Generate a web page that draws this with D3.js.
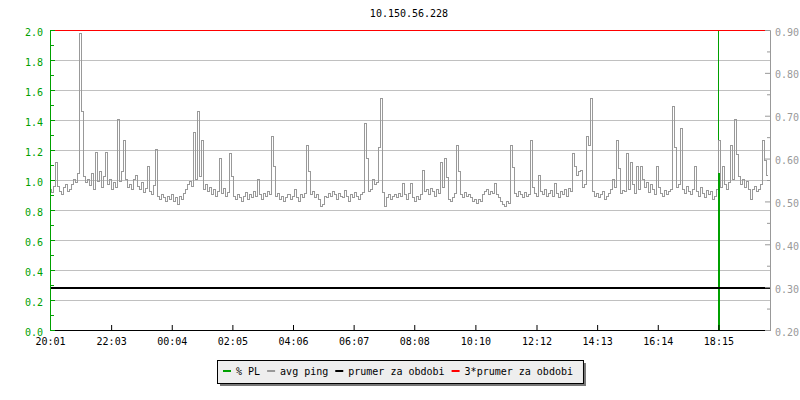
<!DOCTYPE html>
<html>
<head>
<meta charset="utf-8">
<script src="https://cdn.jsdelivr.net/npm/d3@7"></script>
<style>
  body { margin: 0; background: #fff; }
  text { font-family: "DejaVu Sans Mono", monospace; font-size: 10px; }
</style>
</head>
<body>
<div class="chart"></div>
<script>
const title = "10.150.56.228"
const startTime = "20:01"
const spanMinutes = 1437
const xTickLabels = ["20:01", "22:03", "00:04", "02:05", "04:06", "06:07", "08:08", "10:10", "12:12", "14:13", "16:14", "18:15"]
const leftTicks = [0, 0.2, 0.4, 0.6, 0.8, 1.0, 1.2, 1.4, 1.6, 1.8, 2.0]
const rightTicks = [0.2, 0.3, 0.4, 0.5, 0.6, 0.7, 0.8, 0.9]

// avg ping (right axis), one sample every 4 minutes from 20:01
const pingStep = 4
const pingValues = [
  0.529, 0.522, 0.536, 0.592, 0.536, 0.524, 0.517, 0.534, 0.541, 0.524,
  0.529, 0.541, 0.552, 0.545, 0.566, 0.893, 0.711, 0.559, 0.545, 0.552,
  0.538, 0.566, 0.529, 0.615, 0.548, 0.571, 0.534, 0.559, 0.615, 0.541,
  0.552, 0.529, 0.545, 0.534, 0.692, 0.548, 0.571, 0.643, 0.552, 0.534,
  0.541, 0.529, 0.552, 0.562, 0.536, 0.529, 0.545, 0.522, 0.531, 0.583,
  0.524, 0.517, 0.538, 0.622, 0.513, 0.506, 0.517, 0.510, 0.501, 0.513,
  0.506, 0.517, 0.501, 0.510, 0.494, 0.513, 0.506, 0.520, 0.529, 0.541,
  0.548, 0.536, 0.662, 0.552, 0.711, 0.559, 0.643, 0.529, 0.541, 0.524,
  0.534, 0.517, 0.529, 0.513, 0.524, 0.601, 0.520, 0.531, 0.513, 0.522,
  0.613, 0.559, 0.513, 0.506, 0.517, 0.510, 0.501, 0.513, 0.522, 0.506,
  0.517, 0.510, 0.524, 0.513, 0.552, 0.517, 0.506, 0.520, 0.513, 0.524,
  0.517, 0.653, 0.583, 0.513, 0.520, 0.506, 0.513, 0.501, 0.510, 0.517,
  0.506, 0.513, 0.529, 0.510, 0.501, 0.517, 0.510, 0.520, 0.632, 0.571,
  0.517, 0.524, 0.510, 0.517, 0.506, 0.489, 0.494, 0.513, 0.510, 0.520,
  0.513, 0.524, 0.517, 0.506, 0.520, 0.513, 0.510, 0.527, 0.513, 0.501,
  0.517, 0.510, 0.522, 0.513, 0.506, 0.517, 0.522, 0.683, 0.601, 0.524,
  0.529, 0.552, 0.541, 0.545, 0.627, 0.741, 0.522, 0.489, 0.510, 0.517,
  0.506, 0.513, 0.517, 0.510, 0.520, 0.513, 0.543, 0.517, 0.506, 0.520,
  0.543, 0.510, 0.501, 0.513, 0.506, 0.517, 0.573, 0.524, 0.529, 0.517,
  0.531, 0.524, 0.513, 0.529, 0.520, 0.592, 0.534, 0.601, 0.557, 0.506,
  0.501, 0.510, 0.520, 0.632, 0.571, 0.517, 0.510, 0.522, 0.513, 0.517,
  0.510, 0.501, 0.506, 0.497, 0.506, 0.501, 0.517, 0.524, 0.529, 0.517,
  0.524, 0.520, 0.543, 0.517, 0.510, 0.501, 0.494, 0.489, 0.501, 0.497,
  0.632, 0.580, 0.520, 0.513, 0.524, 0.517, 0.510, 0.522, 0.513, 0.517,
  0.643, 0.534, 0.520, 0.513, 0.562, 0.524, 0.517, 0.529, 0.513, 0.520,
  0.527, 0.513, 0.543, 0.520, 0.510, 0.524, 0.517, 0.529, 0.513, 0.531,
  0.524, 0.613, 0.583, 0.562, 0.571, 0.573, 0.534, 0.541, 0.653, 0.632,
  0.741, 0.524, 0.513, 0.520, 0.510, 0.517, 0.524, 0.506, 0.513, 0.520,
  0.529, 0.552, 0.534, 0.643, 0.578, 0.520, 0.527, 0.524, 0.613, 0.529,
  0.592, 0.541, 0.520, 0.583, 0.529, 0.583, 0.552, 0.534, 0.545, 0.522,
  0.541, 0.529, 0.517, 0.583, 0.534, 0.520, 0.513, 0.527, 0.517, 0.524,
  0.529, 0.723, 0.627, 0.534, 0.541, 0.671, 0.529, 0.520, 0.536, 0.524,
  0.517, 0.529, 0.583, 0.524, 0.513, 0.534, 0.520, 0.510, 0.527, 0.517,
  0.524, 0.506, 0.513, 0.529, 0.643, 0.534, 0.583, 0.541, 0.529, 0.545,
  0.632, 0.552, 0.692, 0.611, 0.559, 0.541, 0.552, 0.534, 0.548, 0.529,
  0.506, 0.529, 0.536, 0.524, 0.529, 0.541, 0.643, 0.597, 0.562
]

// % PL (left axis)
const plTimes = ["18:15", "18:17"]
const plValues = [2.4, 1.05]

const meanValue = 0.30
const meanTriple = 0.90

const legendLabels = ["% PL", "avg ping", "prumer za obdobi", "3*prumer za obdobi"]
const legendColors = ["#00a000", "#999999", "#000000", "#ff0000"]

const green = "#00a000"
const gray = "#999999"
const plot = {left: 50, right: 770, top: 30, bottom: 330}

const base = new Date(2020, 0, 1)
const startMin = +startTime.slice(0, 2) * 60 + +startTime.slice(3)
function toDate(hhmm) {
    let m = +hhmm.slice(0, 2) * 60 + +hhmm.slice(3)
    if (m < startMin) m += 1440
    return new Date(+base + m * 60000)
}
const t0 = toDate(startTime)

const x = d3.scaleTime()
    .domain([t0, new Date(+t0 + spanMinutes * 60000)])
    .range([plot.left, plot.right])
const yL = d3.scaleLinear().domain([0, 2]).range([plot.bottom, plot.top])
const yR = d3.scaleLinear().domain([0.2, 0.9]).range([plot.bottom, plot.top])

const svg = d3.select(".chart").append("svg")
    .attr("width", 800)
    .attr("height", 400)

svg.append("defs").append("clipPath").attr("id", "clip")
    .append("rect")
    .attr("x", plot.left).attr("y", plot.top - 1)
    .attr("width", plot.right - plot.left).attr("height", plot.bottom - plot.top + 2)

svg.append("text")
    .attr("x", 409)
    .attr("y", 17)
    .attr("text-anchor", "middle")
    .attr("fill", "#000")
    .text(title)

// grid
svg.append("g")
    .selectAll("line")
    .data(leftTicks.filter(d => d > 0 && d < 2))
    .enter().append("line")
    .attr("x1", plot.left).attr("x2", plot.right)
    .attr("y1", d => yL(d) + 0.5).attr("y2", d => yL(d) + 0.5)
    .attr("stroke", "#c0c0c0")

const plData = plTimes.map((t, i) => ({t: toDate(t), v: plValues[i]}))

// % PL impulse reaching the top, drawn under the ping trace
svg.append("g")
    .attr("clip-path", "url(#clip)")
    .selectAll("line")
    .data(plData.filter(d => d.v >= 2))
    .enter().append("line")
    .attr("x1", d => Math.floor(x(d.t)) + 0.5)
    .attr("x2", d => Math.floor(x(d.t)) + 0.5)
    .attr("y1", yL(0))
    .attr("y2", yL(2))
    .attr("stroke", green)
    .attr("shape-rendering", "crispEdges")

const pingData = pingValues.map((v, i) => ({t: new Date(+t0 + i * pingStep * 60000), v}))

const line = d3.line()
    .x(d => Math.round(x(d.t)) + 0.5)
    .y(d => Math.round(yR(d.v)) + 0.5)
    .curve(d3.curveStep)

svg.append("path")
    .datum(pingData)
    .attr("clip-path", "url(#clip)")
    .attr("fill", "none")
    .attr("stroke", gray)
    .attr("stroke-width", 1)
    .attr("shape-rendering", "crispEdges")
    .attr("d", line)

// % PL bar below 2.0, drawn on top
svg.append("g")
    .selectAll("rect")
    .data(plData.filter(d => d.v < 2))
    .enter().append("rect")
    .attr("x", d => Math.floor(x(d.t)) - 1)
    .attr("width", 2)
    .attr("y", d => Math.round(yL(d.v)))
    .attr("height", d => yL(0) - Math.round(yL(d.v)) + 1)
    .attr("fill", green)

// mean lines
svg.append("line")
    .attr("x1", plot.left).attr("x2", plot.right)
    .attr("y1", Math.round(yR(meanValue)) + 1).attr("y2", Math.round(yR(meanValue)) + 1)
    .attr("stroke", "#000").attr("stroke-width", 2)

svg.append("line")
    .attr("x1", plot.left).attr("x2", plot.right)
    .attr("y1", yR(meanTriple) + 0.5).attr("y2", yR(meanTriple) + 0.5)
    .attr("stroke", "#ff0000").attr("stroke-width", 1)

// x axis
svg.append("g")
    .attr("transform", `translate(0,${plot.bottom})`)
    .call(d3.axisBottom(x)
        .tickValues(xTickLabels.map(toDate))
        .tickFormat((d, i) => xTickLabels[i])
        .tickSize(-5).tickSizeOuter(0).tickPadding(8))
    .call(g => g.attr("font-family", null).attr("font-size", null))
    .call(g => g.selectAll("line,path").attr("stroke", "#000"))
    .call(g => g.selectAll("text").attr("fill", "#000"))

// left axis (green)
svg.append("g")
    .attr("transform", `translate(${plot.left},0)`)
    .call(d3.axisLeft(yL)
        .tickValues(d3.range(0.1, 2, 0.2))
        .tickFormat("")
        .tickSize(-4).tickSizeOuter(0))
    .call(g => g.selectAll("line,path").attr("stroke", green))

svg.append("g")
    .attr("transform", `translate(${plot.left},0)`)
    .call(d3.axisLeft(yL)
        .tickValues(leftTicks)
        .tickFormat(d3.format(".1f"))
        .tickSize(-5).tickSizeOuter(0).tickPadding(7))
    .call(g => g.attr("font-family", null).attr("font-size", null))
    .call(g => g.selectAll("line,path").attr("stroke", green))
    .call(g => g.selectAll("text").attr("fill", green).attr("dy", "0.5em"))

// right axis (gray)
svg.append("g")
    .attr("transform", `translate(${plot.right},0)`)
    .call(d3.axisRight(yR)
        .tickValues(d3.range(0.25, 0.9, 0.1))
        .tickFormat("")
        .tickSize(-3).tickSizeOuter(0))
    .call(g => g.selectAll("line,path").attr("stroke", gray))

svg.append("g")
    .attr("transform", `translate(${plot.right},0)`)
    .call(d3.axisRight(yR)
        .tickValues(rightTicks)
        .tickFormat(d3.format(".2f"))
        .tickSize(-5).tickSizeOuter(0).tickPadding(5))
    .call(g => g.attr("font-family", null).attr("font-size", null))
    .call(g => g.selectAll("line,path").attr("stroke", gray))
    .call(g => g.selectAll("text").attr("fill", gray).attr("dy", "0.5em"))

// legend
const legend = svg.append("g")
const box = legend.append("g")
const items = legend.append("g")
let lx = 223
legendLabels.forEach((label, i) => {
    items.append("line")
        .attr("x1", lx).attr("x2", lx + 8)
        .attr("y1", 371).attr("y2", 371)
        .attr("stroke", legendColors[i]).attr("stroke-width", 2)
    const t = items.append("text")
        .attr("x", lx + 13)
        .attr("y", 374.5)
        .attr("fill", "#000")
        .text(label)
    lx += 13 + t.node().getComputedTextLength() + 7
})
const boxX = 217, boxW = (lx - 7 + 10) - boxX
box.append("rect")
    .attr("x", boxX + 3).attr("y", 363)
    .attr("width", boxW).attr("height", 23)
    .attr("fill", "#777")
box.append("rect")
    .attr("x", boxX + 0.5).attr("y", 360.5)
    .attr("width", boxW).attr("height", 23)
    .attr("fill", "#eeeeee")
    .attr("stroke", "#000")
</script>
</body>
</html>
